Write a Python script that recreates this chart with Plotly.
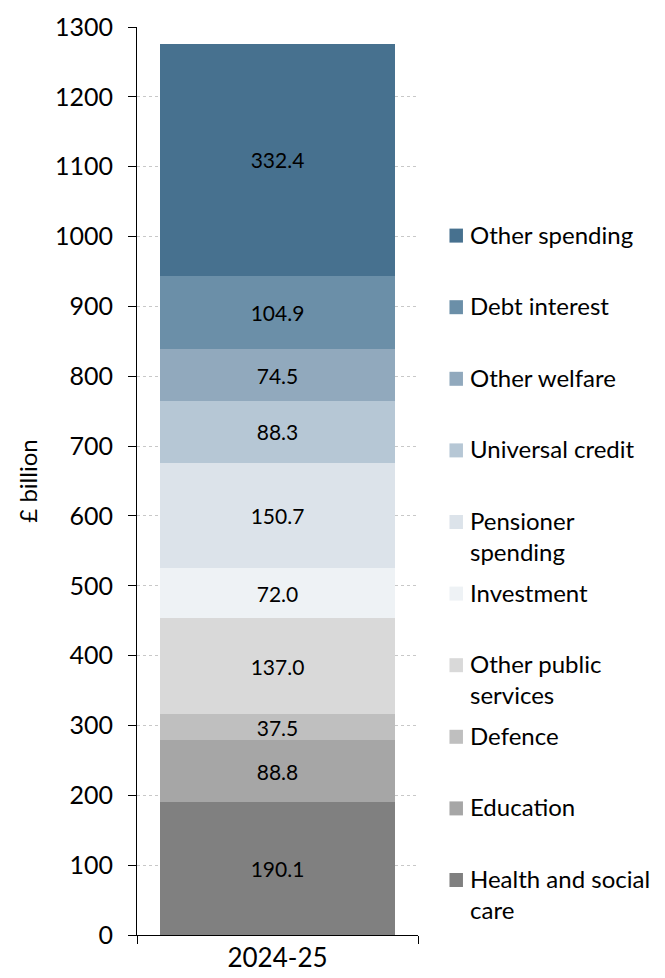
import plotly.graph_objects as go

categories = ["2024-25"]
series_names = ["Health and social care", "Education", "Defence", "Other public services",
                "Investment", "Pensioner spending", "Universal credit", "Other welfare",
                "Debt interest", "Other spending"]
legend_labels = ["Health and social<br>care", "Education", "Defence", "Other public<br>services",
                 "Investment", "Pensioner<br>spending", "Universal credit", "Other welfare",
                 "Debt interest", "Other spending"]
series_values = [190.1, 88.8, 37.5, 137.0, 72.0, 150.7, 88.3, 74.5, 104.9, 332.4]
colors = ["#808080", "#a6a6a6", "#bfbfbf", "#d9d9d9", "#eef2f5",
          "#dce3ea", "#b6c7d5", "#91a9bd", "#6b8fa8", "#47718f"]
y_ticks = list(range(0, 1301, 100))

FONT = "Lato"
fig = go.Figure()
for name, val, col in zip(series_names, series_values, colors):
    fig.add_trace(go.Bar(
        x=categories, y=[val], name=name, marker=dict(color=col, line=dict(width=0)),
        texttemplate="%{y:.1f}", textposition="inside", insidetextanchor="middle",
        textangle=0, textfont=dict(family=FONT, size=21, color="#000000"),
        showlegend=False, hoverinfo="skip"))

# plot area geometry in px (for legend placement)
top_px, bot_px = 19, 927
H = bot_px - top_px
first_center = 872
step = 71.6
for i, (lab, col) in enumerate(zip(legend_labels, colors)):
    cy = first_center - step * i
    yp = (bot_px - cy) / H
    fig.add_shape(type="rect", xref="paper", yref="paper",
                  x0=1.112, x1=1.160, y0=yp - 7 / H, y1=yp + 7 / H,
                  fillcolor=col, line=dict(width=0))
    fig.add_annotation(xref="paper", yref="paper", x=1.178, y=yp,
                       xanchor="left", yanchor="top", yshift=18, align="left",
                       text=lab, showarrow=False,
                       font=dict(family=FONT, size=24, color="#000000"))

fig.update_layout(
    width=657, height=970, barmode="stack", bargap=0.167,
    margin=dict(l=129, r=247, t=19, b=43, autoexpand=False),
    plot_bgcolor="white", paper_bgcolor="white",
    uniformtext=dict(minsize=21, mode="show"),
    font=dict(family=FONT, color="#000000"),
    xaxis=dict(range=[-0.5, 0.5], showline=True, linecolor="#000000", linewidth=1,
               ticks="outside", tickson="boundaries", ticklen=8, tickcolor="#000000",
               tickfont=dict(family=FONT, size=26), showgrid=False, automargin=False),
    yaxis=dict(range=[0, 1300], tickvals=y_ticks, showline=True, linecolor="#000000",
               linewidth=1, ticks="outside", ticklen=8, tickcolor="#000000",
               ticklabelstandoff=10,
               tickfont=dict(family=FONT, size=25), showgrid=True, automargin=False,
               gridcolor="#c8c8c8", griddash="dot", gridwidth=1, zeroline=False,
               title=dict(text="£ billion", font=dict(family=FONT, size=24), standoff=10)),
)
fig.write_html("out.html")
